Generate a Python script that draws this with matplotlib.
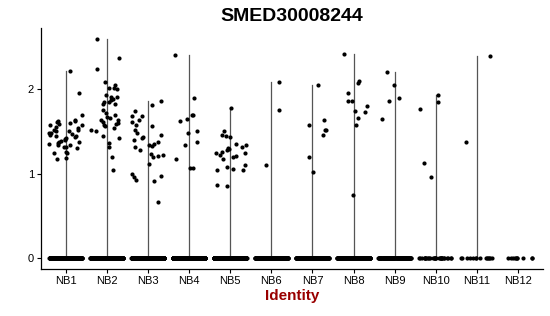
import numpy as np
import matplotlib
matplotlib.use("Agg")
import matplotlib.pyplot as plt

plt.rcParams['font.family'] = ['Liberation Sans', 'DejaVu Sans']

# region Data
gene = "SMED30008244"
clusters = ["NB1", "NB2", "NB3", "NB4", "NB5", "NB6", "NB7", "NB8", "NB9", "NB10", "NB11", "NB12"]

# non-zero expression values per cluster
nb1 = [2.21, 1.95, 1.63, 1.61, 1.59, 1.52, 1.48, 1.44, 1.43, 1.41, 1.37, 1.36, 1.34, 1.31,
       1.26, 1.24, 1.69, 1.62, 1.60, 1.58, 1.55, 1.52, 1.50, 1.48, 1.46, 1.42, 1.40, 1.38,
       1.34, 1.32, 1.18, 1.17, 1.58, 1.51, 1.47, 1.45, 1.39, 1.35, 1.30, 1.25, 1.62, 1.54]
nb2 = [2.59, 2.37, 2.24, 2.09, 2.05, 2.02, 2.01, 2.00, 1.93, 1.91, 1.91, 1.89, 1.87, 1.85,
       1.85, 1.83, 1.82, 1.75, 1.72, 1.69, 1.67, 1.64, 1.63, 1.61, 1.60, 1.59, 1.56, 1.54,
       1.52, 1.44, 1.42, 1.36, 1.32, 1.20, 1.04, 1.66, 1.58, 1.50]
nb3 = [1.86, 1.81, 1.74, 1.68, 1.68, 1.64, 1.61, 1.58, 1.57, 1.52, 1.48, 1.46, 1.43, 1.42,
       1.40, 1.38, 1.35, 1.34, 1.33, 1.31, 1.28, 1.23, 1.22, 1.21, 1.20, 1.11, 1.00, 0.97,
       0.96, 0.93, 0.91, 0.66]
nb4 = [2.41, 1.90, 1.70, 1.69, 1.65, 1.62, 1.50, 1.48, 1.37, 1.34, 1.17, 1.07, 1.07]
nb5 = [1.78, 1.50, 1.46, 1.44, 1.43, 1.35, 1.34, 1.32, 1.30, 1.29, 1.28, 1.26, 1.25, 1.24,
       1.22, 1.21, 1.20, 1.17, 1.10, 1.08, 1.05, 1.04, 1.04, 0.87, 0.85]
nb6 = [2.09, 1.75, 1.10]
nb7 = [2.05, 1.63, 1.58, 1.52, 1.52, 1.46, 1.20, 1.02]
nb8 = [2.42, 2.10, 2.07, 1.96, 1.86, 1.86, 1.80, 1.74, 1.73, 1.66, 1.58, 0.75]
nb9 = [2.20, 2.05, 1.90, 1.86, 1.65]
nb10 = [1.93, 1.85, 1.76, 1.13, 0.96]
nb11 = [2.39, 1.37]
nb12 = []
nonzero_values = [nb1, nb2, nb3, nb4, nb5, nb6, nb7, nb8, nb9, nb10, nb11, nb12]

# number of cells with zero expression per cluster (estimated)
zero_counts = [400, 400, 400, 400, 400, 300, 300, 300, 150, 30, 14, 10]
# endregion

fig = plt.figure(figsize=(5.5, 3.16), dpi=100)
ax = fig.add_axes([0.0745, 0.1487, 0.9125, 0.7613])

rng = np.random.default_rng(7)  # horizontal jitter only
jitter = 0.4

for i, name in enumerate(clusters):
    pos = i + 1
    vals = np.array(nonzero_values[i] + [0.0] * zero_counts[i])
    # violin is collapsed to a thin line from 0 to the max value
    ax.plot([pos, pos], [0, vals.max()], color='#555555', lw=0.9, zorder=1)
    xs = pos + rng.uniform(-jitter, jitter, len(vals))
    ax.scatter(xs, vals, s=9, color='black', linewidths=0, zorder=2)

ax.set_xlim(0.4, 12.6)
ax.set_ylim(-0.13, 2.72)
ax.set_xticks(range(1, len(clusters) + 1))
ax.set_xticklabels(clusters, fontsize=8)
ax.set_yticks([0, 1, 2])
ax.set_yticklabels(["0", "1", "2"], fontsize=8)
ax.tick_params(axis='both', length=3, width=0.8, color='black', pad=2)

for side in ['top', 'right']:
    ax.spines[side].set_visible(False)
for side in ['left', 'bottom']:
    ax.spines[side].set_linewidth(0.9)

ax.set_xlabel("Identity", fontsize=11, fontweight='bold', color='#990000', labelpad=2)
ax.set_title(gene, fontsize=14, fontweight='bold', pad=5)

plt.savefig("out.png", dpi=100)
